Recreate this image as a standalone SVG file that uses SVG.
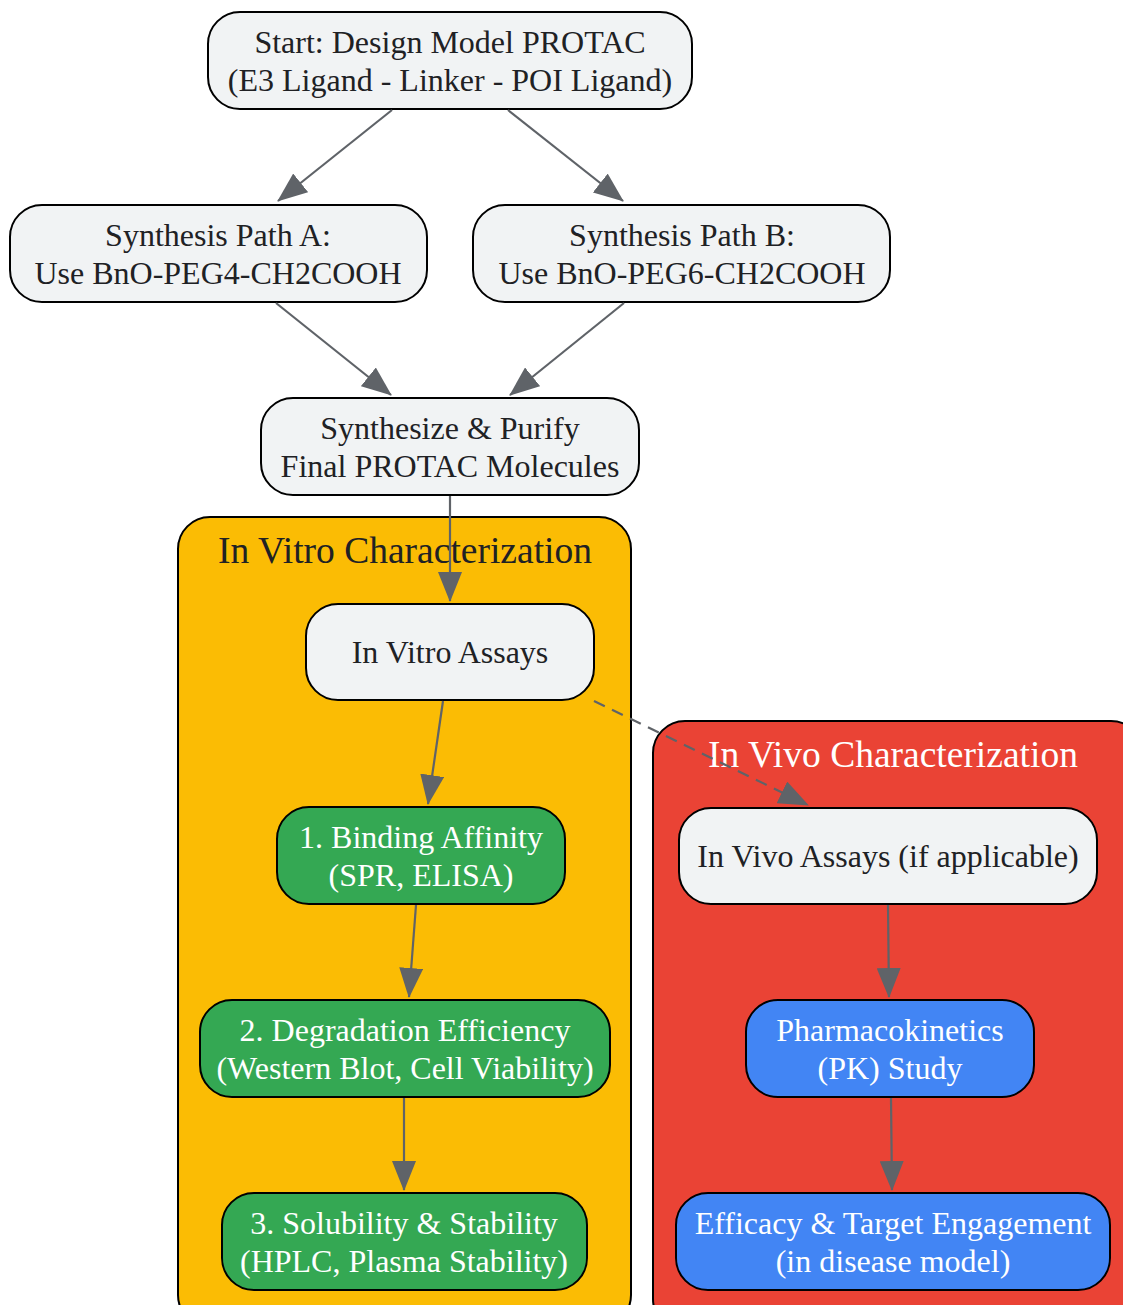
<svg xmlns="http://www.w3.org/2000/svg" width="1123" height="1305" viewBox="0 0 1123 1305">
<style>
  text { font-family: "Liberation Serif", "Times New Roman", serif; text-anchor: middle; }
  .node { stroke: #000; stroke-width: 2; }
  .grey { fill: #F1F3F4; }
  .green { fill: #34A853; }
  .blue { fill: #4285F4; }
  .t { font-size: 32px; fill: #202124; }
  .w { font-size: 32px; fill: #FFFFFF; }
  .ct { font-size: 37.5px; }
  .edge { stroke: #5F6368; stroke-width: 2.2; fill: none; }
  .dash { stroke-dasharray: 12 8; }
</style>
<defs>
  <marker id="arr" markerUnits="userSpaceOnUse" markerWidth="30" markerHeight="24" viewBox="0 0 30 24" refX="29" refY="12" orient="auto">
    <path d="M0,0 L30,12 L0,24 Z" fill="#5F6368"/>
  </marker>
</defs>
<rect width="1123" height="1305" fill="#FFFFFF"/>

<g id="cluster_invitro">
  <rect x="178" y="517" width="453" height="810" rx="32" fill="#FBBC04" stroke="#000" stroke-width="2"/>
  <text class="ct" x="405" y="563" fill="#202124">In Vitro Characterization</text>
</g>
<g id="cluster_invivo">
  <rect x="653" y="721" width="490" height="610" rx="32" fill="#EA4335" stroke="#000" stroke-width="2"/>
  <text class="ct" x="893" y="767" fill="#FFFFFF">In Vivo Characterization</text>
</g>

<g id="start">
  <rect class="node grey" x="208" y="12" width="484" height="97" rx="32"/>
  <text class="t" x="450" y="53">Start: Design Model PROTAC</text>
  <text class="t" x="450" y="91">(E3 Ligand - Linker - POI Ligand)</text>
</g>
<g id="pathA">
  <rect class="node grey" x="10" y="205" width="417" height="97" rx="32"/>
  <text class="t" x="218" y="246">Synthesis Path A:</text>
  <text class="t" x="218" y="284">Use BnO-PEG4-CH2COOH</text>
</g>
<g id="pathB">
  <rect class="node grey" x="473" y="205" width="417" height="97" rx="32"/>
  <text class="t" x="682" y="246">Synthesis Path B:</text>
  <text class="t" x="682" y="284">Use BnO-PEG6-CH2COOH</text>
</g>
<g id="synth">
  <rect class="node grey" x="261" y="398" width="378" height="97" rx="32"/>
  <text class="t" x="450" y="439">Synthesize &amp; Purify</text>
  <text class="t" x="450" y="477">Final PROTAC Molecules</text>
</g>
<g id="invitro">
  <rect class="node grey" x="306" y="604" width="288" height="96" rx="32"/>
  <text class="t" x="450" y="663">In Vitro Assays</text>
</g>
<g id="binding">
  <rect class="node green" x="277" y="807" width="288" height="97" rx="32"/>
  <text class="w" x="421" y="848">1. Binding Affinity</text>
  <text class="w" x="421" y="886">(SPR, ELISA)</text>
</g>
<g id="degradation">
  <rect class="node green" x="200" y="1000" width="410" height="97" rx="32"/>
  <text class="w" x="405" y="1041">2. Degradation Efficiency</text>
  <text class="w" x="405" y="1079">(Western Blot, Cell Viability)</text>
</g>
<g id="solubility">
  <rect class="node green" x="222" y="1193" width="365" height="97" rx="32"/>
  <text class="w" x="404" y="1234">3. Solubility &amp; Stability</text>
  <text class="w" x="404" y="1272">(HPLC, Plasma Stability)</text>
</g>
<g id="invivo">
  <rect class="node grey" x="679" y="808" width="418" height="96" rx="32"/>
  <text class="t" x="888" y="867">In Vivo Assays (if applicable)</text>
</g>
<g id="pk">
  <rect class="node blue" x="746" y="1000" width="288" height="97" rx="32"/>
  <text class="w" x="890" y="1041">Pharmacokinetics</text>
  <text class="w" x="890" y="1079">(PK) Study</text>
</g>
<g id="efficacy">
  <rect class="node blue" x="676" y="1193" width="434" height="97" rx="32"/>
  <text class="w" x="893" y="1234">Efficacy &amp; Target Engagement</text>
  <text class="w" x="893" y="1272">(in disease model)</text>
</g>

<g id="connectors">
  <line class="edge" x1="392" y1="110" x2="278" y2="201" marker-end="url(#arr)"/>
  <line class="edge" x1="508" y1="110" x2="623" y2="201" marker-end="url(#arr)"/>
  <line class="edge" x1="276" y1="303" x2="391" y2="395" marker-end="url(#arr)"/>
  <line class="edge" x1="624" y1="303" x2="510" y2="395" marker-end="url(#arr)"/>
  <line class="edge" x1="450" y1="496" x2="450" y2="601" marker-end="url(#arr)"/>
  <line class="edge" x1="443" y1="701" x2="428" y2="804" marker-end="url(#arr)"/>
  <line class="edge" x1="416" y1="905" x2="409" y2="997" marker-end="url(#arr)"/>
  <line class="edge" x1="404" y1="1098" x2="404" y2="1190" marker-end="url(#arr)"/>
  <line class="edge dash" x1="594" y1="701" x2="808" y2="805" marker-end="url(#arr)"/>
  <line class="edge" x1="888" y1="905" x2="889" y2="997" marker-end="url(#arr)"/>
  <line class="edge" x1="891" y1="1098" x2="892" y2="1190" marker-end="url(#arr)"/>
</g>
</svg>
